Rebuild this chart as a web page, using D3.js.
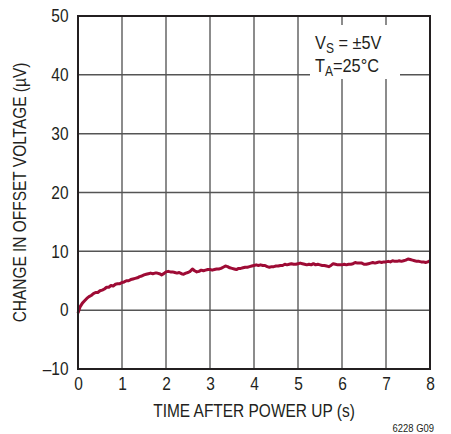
<!DOCTYPE html>
<html>
<head>
<meta charset="utf-8">
<script src="https://cdn.jsdelivr.net/npm/d3@7"></script>
<style>
  html, body { margin: 0; padding: 0; background: #fff; }
  svg { display: block; }
  text { font-family: "Liberation Sans", Arial, sans-serif; fill: #231f20; }
</style>
</head>
<body>
<svg id="chart" width="451" height="434"></svg>
<script>
// ---- data ----
const timeStep = 0.05; // s between samples
const offsetChange = [
  -0.5, 0.6, 1.2, 1.6, 2.0, 2.3, 2.5, 2.8, 3.0, 3.0,
  3.3, 3.4, 3.6, 3.9, 3.9, 4.2, 4.1, 4.4, 4.5, 4.5,
  4.7, 4.8, 5.0, 5.0, 5.2, 5.3, 5.4, 5.5, 5.7, 5.8,
  6.0, 6.1, 6.2, 6.3, 6.2, 6.3, 6.3, 6.2, 6.0, 6.2,
  6.5, 6.6, 6.5, 6.5, 6.4, 6.3, 6.4, 6.2, 6.1, 6.3,
  6.4, 6.6, 7.0, 6.7, 6.5, 6.6, 6.8, 6.7, 6.8, 6.9,
  6.9, 6.8, 6.9, 7.0, 7.0, 7.1, 7.3, 7.5, 7.4, 7.2,
  7.1, 7.0, 6.9, 7.1, 7.1, 7.2, 7.3, 7.3, 7.4, 7.5,
  7.6, 7.7, 7.6, 7.7, 7.6, 7.6, 7.4, 7.3, 7.4, 7.4,
  7.5, 7.5, 7.6, 7.6, 7.8, 7.7, 7.8, 7.9, 7.8, 7.8,
  7.9, 8.0, 7.9, 7.8, 7.7, 7.8, 7.7, 7.9, 7.7, 7.8,
  7.7, 7.6, 7.6, 7.5, 7.4, 7.6, 7.9, 7.8, 7.7, 7.7,
  7.7, 7.8, 7.7, 7.8, 7.8, 7.9, 8.1, 8.0, 8.0, 8.0,
  7.8, 7.8, 7.9, 8.0, 8.1, 8.0, 8.1, 8.2, 8.1, 8.2,
  8.2, 8.3, 8.2, 8.4, 8.3, 8.3, 8.4, 8.3, 8.4, 8.5,
  8.7, 8.6, 8.5, 8.4, 8.3, 8.3, 8.2, 8.2, 8.1, 8.2,
  8.4
];
const xTicks = [0, 1, 2, 3, 4, 5, 6, 7, 8];
const yTicks = [-10, 0, 10, 20, 30, 40, 50];
const xTitle = "TIME AFTER POWER UP (s)";
const yTitle = "CHANGE IN OFFSET VOLTAGE (\u00B5V)";
const figId = "6228 G09";

// ---- layout ----
const svg = d3.select("#chart");
const m = { left: 78, right: 430, top: 16, bottom: 369 };
const x = d3.scaleLinear().domain([0, 8]).range([m.left, m.right]);
const y = d3.scaleLinear().domain([-10, 50]).range([m.bottom, m.top]);
const cond = 0.86; // horizontal condensing to mimic a condensed face

// vertical grid
svg.append("g").selectAll("line")
  .data(xTicks.slice(1, -1)).join("line")
  .attr("x1", d => x(d)).attr("x2", d => x(d))
  .attr("y1", m.top).attr("y2", m.bottom)
  .attr("stroke", "#8c8c8c").attr("stroke-width", 2);
// horizontal grid
svg.append("g").selectAll("line")
  .data(yTicks.slice(1, -1)).join("line")
  .attr("x1", m.left).attr("x2", m.right)
  .attr("y1", d => y(d)).attr("y2", d => y(d))
  .attr("stroke", "#555").attr("stroke-width", 1.5);

// annotation background
svg.append("rect").attr("x", 310).attr("y", 25).attr("width", 90).attr("height", 54).attr("fill", "#fff");

// curve
const line = d3.line().x((d, i) => x(i * timeStep)).y(d => y(d)).curve(d3.curveLinear);
svg.append("path").datum(offsetChange)
  .attr("d", line).attr("fill", "none")
  .attr("stroke", "#9e0b35").attr("stroke-width", 3)
  .attr("stroke-linejoin", "round");

// frame
svg.append("rect").attr("x", m.left).attr("y", m.top)
  .attr("width", m.right - m.left).attr("height", m.bottom - m.top)
  .attr("fill", "none").attr("stroke", "#231f20").attr("stroke-width", 2);

// axes tick labels
const xAxis = d3.axisBottom(x).tickValues(xTicks).tickSize(0).tickPadding(8).tickFormat(d3.format("d"));
const gx = svg.append("g").attr("transform", `translate(0,${m.bottom})`).call(xAxis);
gx.select(".domain").remove();
gx.selectAll("text").attr("font-size", 18).attr("font-family", null).attr("fill", "#231f20")
  .attr("transform", `scale(${cond},1)`);

const yAxis = d3.axisLeft(y).tickValues(yTicks).tickSize(0).tickPadding(11)
  .tickFormat(d => d < 0 ? "\u2013" + Math.abs(d) : String(d));
const gy = svg.append("g").attr("transform", `translate(${m.left},0)`).call(yAxis);
gy.select(".domain").remove();
gy.selectAll("text").attr("font-size", 18).attr("font-family", null).attr("fill", "#231f20")
  .attr("transform", `scale(${cond},1)`);

// titles
svg.append("text").attr("transform", `translate(${(m.left + m.right) / 2},417) scale(${cond},1)`)
  .attr("text-anchor", "middle").attr("font-size", 18).text(xTitle);
svg.append("text").attr("transform", `translate(26,${(m.top + m.bottom) / 2}) rotate(-90) scale(${cond},1)`)
  .attr("text-anchor", "middle").attr("font-size", 18).text(yTitle);

// annotation
const ann = svg.append("text").attr("transform", `translate(315,49) scale(${cond},1)`).attr("font-size", 19);
ann.append("tspan").text("V");
ann.append("tspan").attr("font-size", 14).attr("dy", 4).text("S");
ann.append("tspan").attr("dy", -4).text(" = \u00B15V");
const ann2 = svg.append("text").attr("transform", `translate(315,72) scale(${cond},1)`).attr("font-size", 19);
ann2.append("tspan").text("T");
ann2.append("tspan").attr("font-size", 14).attr("dy", 4).text("A");
ann2.append("tspan").attr("dy", -4).text("=25\u00B0C");

svg.append("text").attr("transform", `translate(434,432) scale(${cond},1)`).attr("text-anchor", "end")
  .attr("font-size", 11).text(figId);
</script>
</body>
</html>
